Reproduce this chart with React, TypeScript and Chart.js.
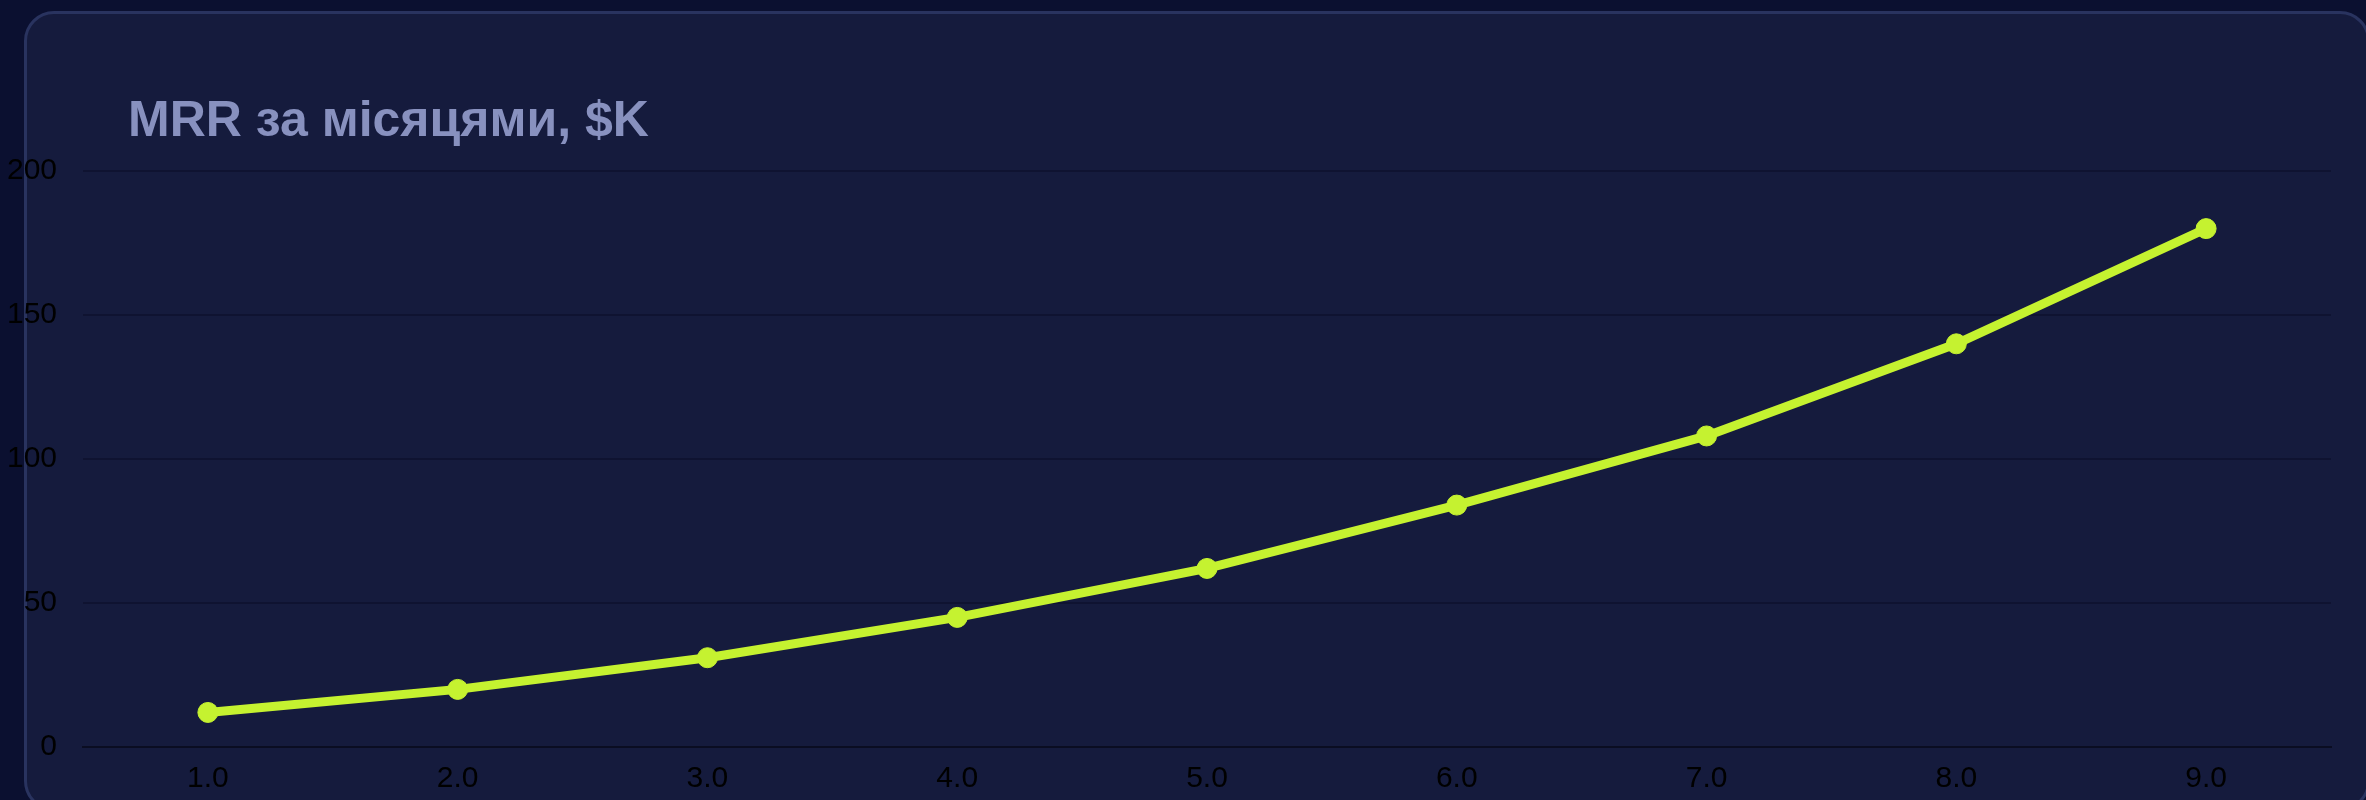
import React, { useEffect, useRef } from 'react';
import { Chart, registerables } from 'chart.js';

Chart.register(...registerables);

const months: string[] = ['1.0', '2.0', '3.0', '4.0', '5.0', '6.0', '7.0', '8.0', '9.0'];
const mrrValues: number[] = [12, 20, 31, 45, 62, 84, 108, 140, 180];
const yMin = 0;
const yMax = 200;
const yStep = 50;
const titleText = 'MRR за місяцями, $K';

const FONT = "'Liberation Sans', Arial, Helvetica, sans-serif";

export default function App() {
  const ref = useRef<HTMLCanvasElement | null>(null);

  useEffect(() => {
    if (!ref.current) return;
    const chart = new Chart(ref.current, {
      type: 'line',
      data: {
        labels: months,
        datasets: [
          {
            data: mrrValues,
            borderColor: '#c5f230',
            backgroundColor: '#c5f230',
            borderWidth: 9,
            pointRadius: 10,
            pointBorderWidth: 1,
            pointBackgroundColor: '#c5f230',
            pointBorderColor: '#c5f230',
            tension: 0,
            fill: false,
          },
        ],
      },
      options: {
        responsive: true,
        maintainAspectRatio: false,
        animation: false,
        events: [],
        layout: { padding: { top: 163, right: 27, bottom: 3, left: 0 } },
        plugins: {
          legend: { display: false },
          tooltip: { enabled: false },
          title: { display: false },
        },
        scales: {
          x: {
            offset: true,
            grid: { display: false, drawTicks: false },
            border: { display: true, color: '#0a0d22', width: 2 },
            ticks: {
              color: '#000000',
              font: { size: 30, family: FONT },
              padding: 14,
              maxRotation: 0,
              autoSkip: false,
            },
            afterFit: (scale: any) => {
              scale.height = 50;
            },
          },
          y: {
            min: yMin,
            max: yMax,
            ticks: {
              stepSize: yStep,
              color: '#000000',
              font: { size: 30, family: FONT },
              padding: 26,
            },
            grid: { color: '#0f1331', lineWidth: 2, drawTicks: false },
            border: { display: false },
            afterFit: (scale: any) => {
              scale.width = 75;
            },
          },
        },
      },
    });
    return () => chart.destroy();
  }, []);

  return (
    <div
      style={{
        position: 'fixed',
        left: 0,
        top: 0,
        width: '100vw',
        height: '100vh',
        overflow: 'hidden',
        background: '#0b1030',
      }}
    >
      <div
        style={{
          position: 'absolute',
          left: 24,
          top: 11,
          width: 2346,
          height: 800,
          boxSizing: 'border-box',
          border: '3px solid #29335f',
          borderRadius: 30,
          background: '#151b3d',
        }}
      />
      <div
        style={{
          position: 'absolute',
          left: 128,
          top: 94,
          fontFamily: FONT,
          fontSize: 50,
          fontWeight: 'bold',
          lineHeight: '50px',
          color: '#8891bf',
          whiteSpace: 'nowrap',
        }}
      >
        {titleText}
      </div>
      <div style={{ position: 'absolute', left: 8, top: 8, width: 2350, height: 792 }}>
        <canvas ref={ref} />
      </div>
    </div>
  );
}
